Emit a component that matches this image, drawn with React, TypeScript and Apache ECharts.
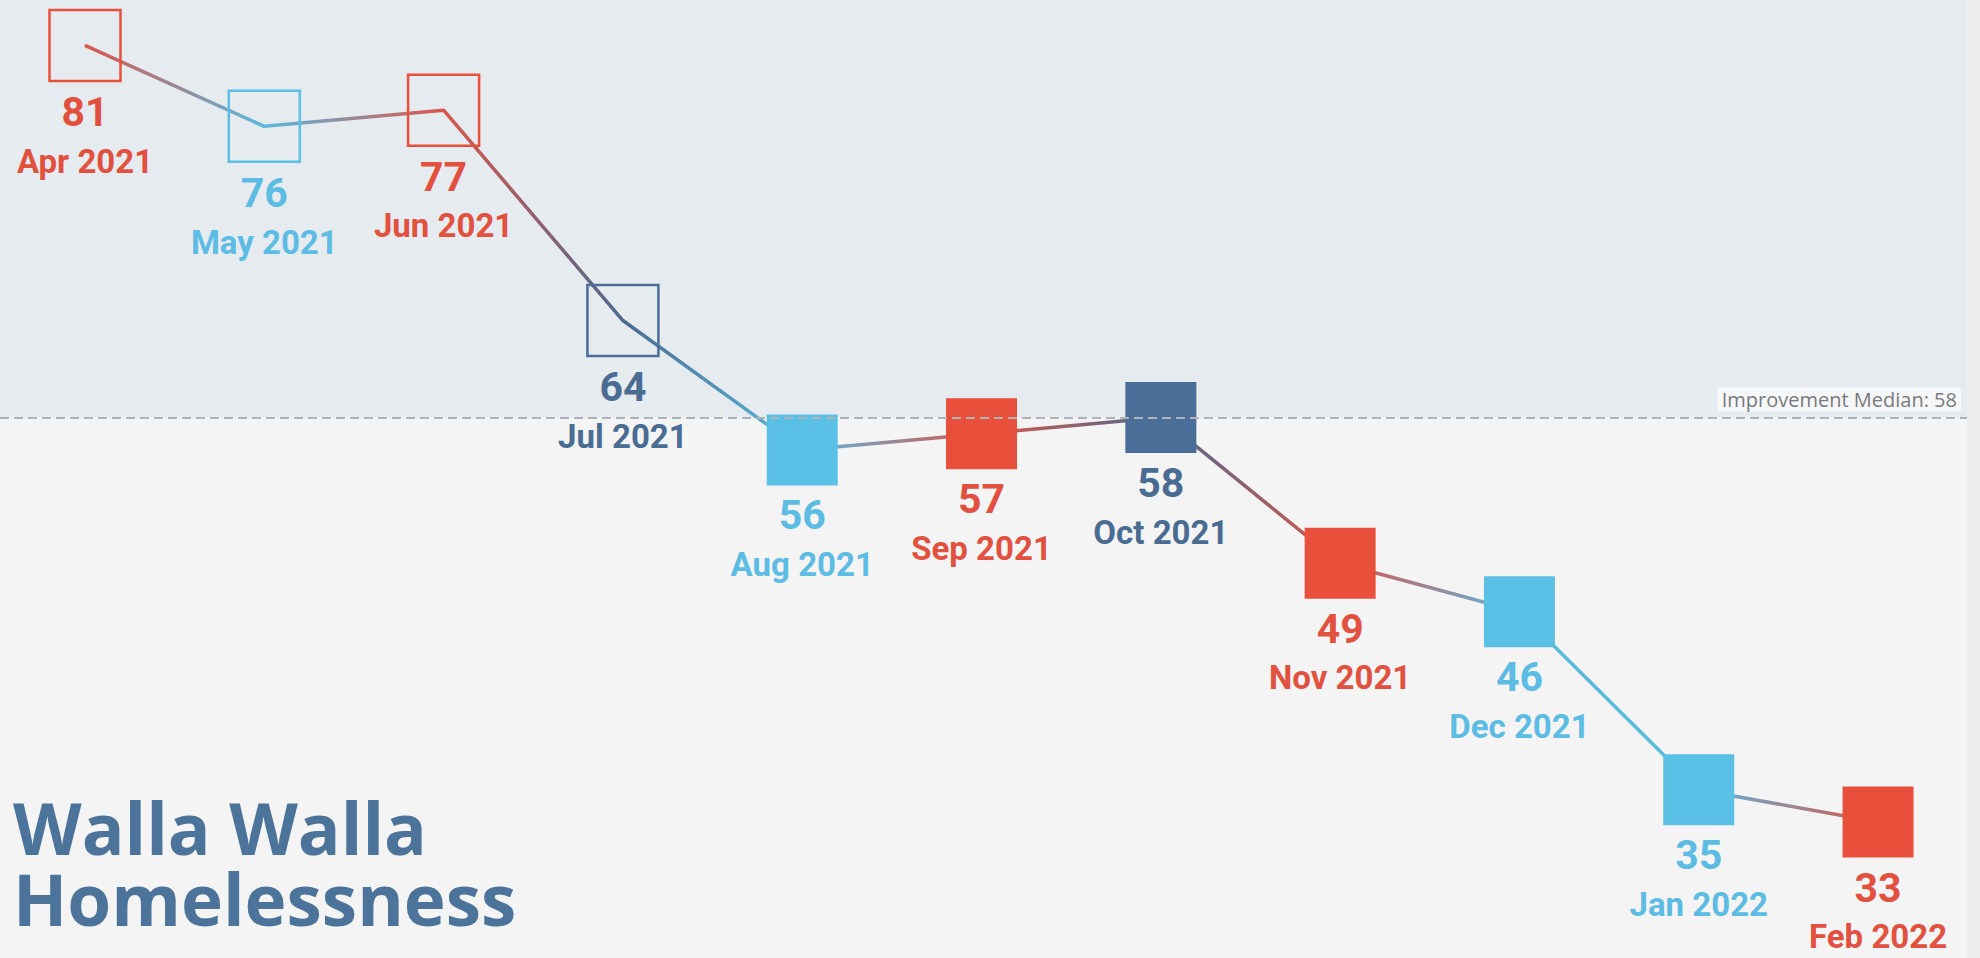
import React, { useEffect, useRef } from "react";
import * as echarts from "echarts";

const months = ["Apr 2021", "May 2021", "Jun 2021", "Jul 2021", "Aug 2021", "Sep 2021", "Oct 2021", "Nov 2021", "Dec 2021", "Jan 2022", "Feb 2022"];
const values = [81, 76, 77, 64, 56, 57, 58, 49, 46, 35, 33];
const colorKeys = ["red", "light", "red", "dark", "light", "red", "dark", "red", "light", "light", "red"];
const hollow = [true, true, true, true, false, false, false, false, false, false, false];
const medianValue = 58;
const medianLabel = "Improvement Median: 58";
const titleLines = ["Walla Walla", "Homelessness"];

const palette: Record<string, string> = { red: "#E8503B", light: "#5BC0E6", dark: "#4A6E98" };
const textPalette: Record<string, string> = { red: "#E2513F", light: "#5DBCE3", dark: "#4A6C93" };
const linePalette: Record<string, string> = { red: "#D9564A", light: "#5AB9DF", dark: "#4D6A8F" };

const Y_MIN = 24.6;
const Y_MAX = 83.81;
const X_MIN = -0.474;
const X_MAX = 10.496;

export default function App() {
  const ref = useRef<HTMLDivElement>(null);
  useEffect(() => {
    if (!ref.current) return;
    const chart = echarts.init(ref.current, undefined, { renderer: "svg" });
    const n = values.length;
    const data = values.map((v, i) => {
      const k = colorKeys[i];
      return {
        value: [i, v],
        itemStyle: hollow[i]
          ? { color: "rgba(0,0,0,0)", borderColor: palette[k], borderWidth: 2.5 }
          : { color: palette[k], borderWidth: 0 },
        label: {
          show: true,
          position: "bottom",
          distance: 5,
          formatter: `{v|${v}}\n{m|${months[i]}}`,
          rich: {
            v: { fontFamily: "Roboto", fontWeight: "bold", fontSize: 41, lineHeight: 50, color: textPalette[k], align: "center" },
            m: { fontFamily: "Roboto", fontWeight: "bold", fontSize: 33, lineHeight: 48, color: textPalette[k], align: "center" },
          },
        },
      };
    });
    const stops = colorKeys.map((k, i) => ({ offset: i / (n - 1), color: linePalette[k] }));
    chart.setOption({
      animation: false,
      backgroundColor: "#EEEEEF",
      grid: { left: 0, right: 13, top: 0, bottom: 0 },
      xAxis: {
        type: "value",
        min: X_MIN,
        max: X_MAX,
        show: false,
        splitLine: { show: false },
      },
      yAxis: {
        type: "value",
        min: Y_MIN,
        max: Y_MAX,
        show: false,
        splitLine: { show: false },
      },
      graphic: [
        {
          type: "text",
          left: 13,
          top: 792,
          z: 100,
          style: {
            text: titleLines.join("\n"),
            fontFamily: "Open Sans",
            fontWeight: "bold",
            fontSize: 71,
            lineHeight: 71,
            fill: "#4C7399",
          },
        },
      ],
      series: [
        {
          type: "line",
          data,
          symbol: "rect",
          symbolSize: 71,
          lineStyle: {
            width: 3.5,
            color: new echarts.graphic.LinearGradient(0, 0, 1, 0, stops),
          },
          z: 3,
          markArea: {
            silent: true,
            itemStyle: { color: "#E6EBF0" },
            data: [
              [{ yAxis: medianValue, itemStyle: { color: "#E6EBF0" } }, { yAxis: Y_MAX }],
              [{ yAxis: Y_MIN, itemStyle: { color: "#F4F4F5" } }, { yAxis: medianValue }],
            ],
          },
          markLine: {
            silent: true,
            symbol: "none",
            lineStyle: { color: "#AEB3BA", width: 2, type: [9, 5] },
            label: {
              show: true,
              position: "insideEndTop",
              distance: [6, 6],
              formatter: medianLabel,
              fontFamily: "Open Sans",
              fontSize: 20,
              color: "#7A7A7A",
              backgroundColor: "rgba(248,249,250,0.85)",
              padding: [2, 4, 2, 4],
            },
            data: [{ yAxis: medianValue }],
          },
        },
      ],
    });
    return () => chart.dispose();
  }, []);
  return <div ref={ref} style={{ position: "fixed", left: 0, top: 0, width: 1980, height: 958 }} />;
}
